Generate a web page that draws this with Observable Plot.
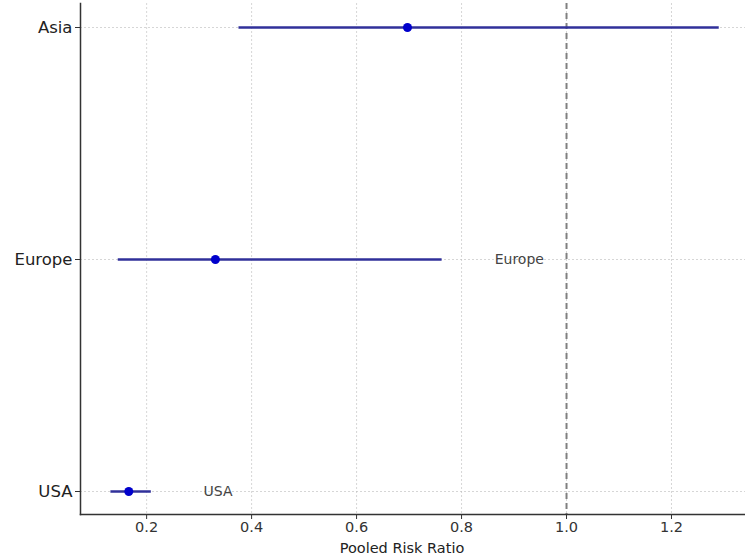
<!DOCTYPE html>
<html>
<head>
<meta charset="utf-8">
<script src="https://cdn.jsdelivr.net/npm/d3@7"></script>
<script src="https://cdn.jsdelivr.net/npm/@observablehq/plot@0.6"></script>
<style>
  html, body { margin: 0; padding: 0; background: #fff; }
  #chart { width: 745px; height: 560px; overflow: hidden; }
  svg { font-family: "DejaVu Sans", sans-serif; }
</style>
</head>
<body>
<div id="chart"></div>
<script>
const regions = ["Asia", "Europe", "USA"];
const pooledRR = [0.697, 0.331, 0.166];
const ciLower = [0.375, 0.145, 0.131];
const ciUpper = [1.29, 0.762, 0.208];
const labelText = ["Europe", "USA"];
const labelRegion = ["Europe", "USA"];
const labelX = [0.91, 0.336];
const xTicks = [0.2, 0.4, 0.6, 0.8, 1.0, 1.2];

const rows = regions.map((r, i) => ({region: r, rr: pooledRR[i], lo: ciLower[i], hi: ciUpper[i]}));
const labels = labelText.map((t, i) => ({text: t, region: labelRegion[i], x: labelX[i]}));

const chart = Plot.plot({
  width: 745,
  height: 560,
  marginLeft: 80,
  marginRight: 0,
  marginTop: 3,
  marginBottom: 46,
  style: {fontSize: "14px", fontFamily: "DejaVu Sans, sans-serif", color: "#333"},
  x: {domain: [0.074, 1.341], ticks: xTicks, tickFormat: d3.format(".1f"), label: null, tickSize: 5},
  y: {domain: regions, type: "point", padding: 0.1, label: null, tickSize: 5},
  marks: [
    Plot.gridX(xTicks, {stroke: "#bbb", strokeOpacity: 0.6, strokeDasharray: "2,2"}),
    Plot.gridY(regions, {stroke: "#bbb", strokeOpacity: 0.6, strokeDasharray: "2,2"}),
    Plot.ruleX([1.0], {stroke: "#808080", strokeWidth: 2, strokeDasharray: "6,4"}),
    Plot.link(rows, {x1: "lo", x2: "hi", y1: "region", y2: "region", stroke: "#30309a", strokeWidth: 2.5}),
    Plot.dot(rows, {x: "rr", y: "region", r: 4.5, fill: "#0000cc", stroke: "none"}),
    Plot.text(labels, {x: "x", y: "region", text: "text", fontSize: 14, fill: "#444"}),
    Plot.axisX({ticks: xTicks, tickFormat: d3.format(".1f"), label: null, fontSize: 14.5, tickSize: 5, tickPadding: 2, fill: "#333"}),
    Plot.axisY({label: null, fontSize: 16.5, tickSize: 5, tickPadding: 3, fill: "#222"}),
    Plot.frame({anchor: "left", stroke: "#333", strokeWidth: 1.5}),
    Plot.frame({anchor: "bottom", stroke: "#333", strokeWidth: 1.5}),
    Plot.text(["Pooled Risk Ratio"], {frameAnchor: "bottom", dx: -11, dy: 38, fontSize: 14.5, fill: "#222"})
  ]
});
document.getElementById("chart").appendChild(chart);
</script>
</body>
</html>
